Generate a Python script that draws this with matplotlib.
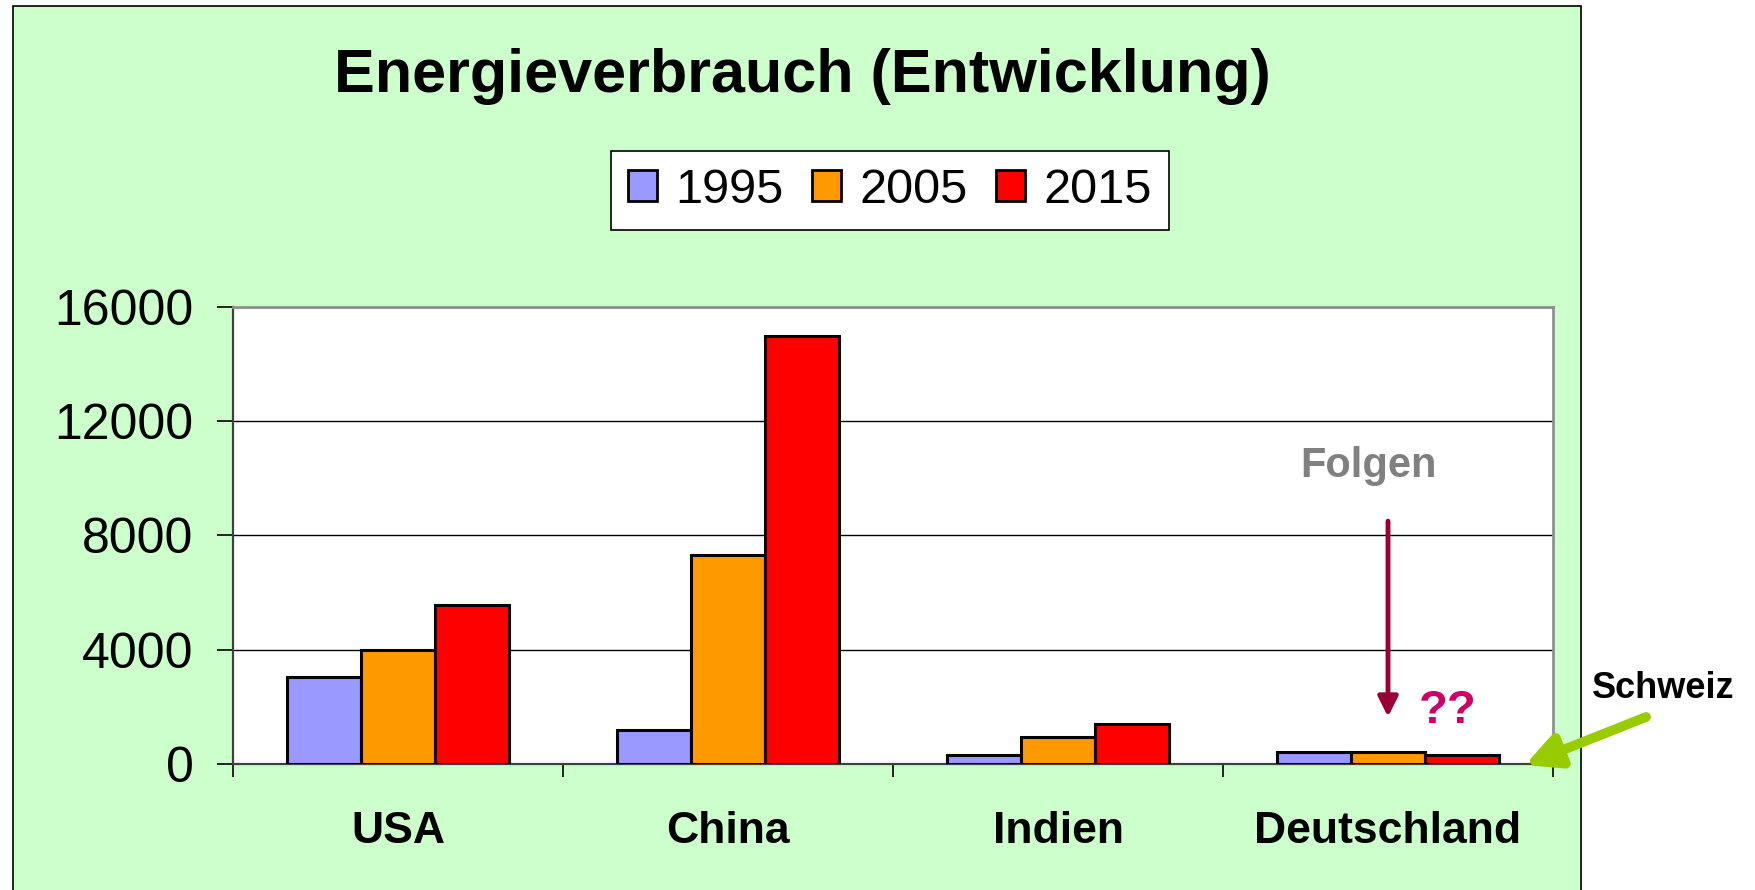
import numpy as np
import matplotlib
matplotlib.use("Agg")
from matplotlib import pyplot as plt
from matplotlib.patches import Rectangle

plt.rcParams['font.family'] = ['Liberation Sans', 'DejaVu Sans']

# --- Daten ---
countries = ['USA', 'China', 'Indien', 'Deutschland']
years = ['1995', '2005', '2015']
values_1995 = [3050, 1200, 300, 420]
values_2005 = [4000, 7300, 950, 420]
values_2015 = [5550, 15000, 1400, 330]
yticks = [0, 4000, 8000, 12000, 16000]
colors = ['#9999FF', '#FF9900', '#FF0000']

fig = plt.figure(figsize=(17.56, 8.90), dpi=100)
fig.patch.set_facecolor('white')

# gruener Hintergrund (Diagrammflaeche)
fig.patches.append(Rectangle((0.0074, -0.01), 0.893, 1.0033, transform=fig.transFigure,
                             facecolor='#CCFFCC', edgecolor='black', linewidth=1.2, zorder=-10))

ax = fig.add_axes([0.1327, 0.1416, 0.7517, 0.5135])
ax.set_facecolor('white')

x = np.arange(len(countries))
w = 0.2236
series = [values_1995, values_2005, values_2015]
for i, (vals, col, yr) in enumerate(zip(series, colors, years)):
    ax.bar(x + (i - 1) * w, vals, width=w, color=col, edgecolor='black',
           linewidth=2.2, label=yr, zorder=3)

ax.set_xlim(-0.5, 3.5)
ax.set_ylim(0, 16000)
ax.set_yticks(yticks)
ax.set_yticklabels([str(v) for v in yticks], fontsize=36)
ax.yaxis.grid(True, color='black', linewidth=1.0, zorder=1)
ax.set_axisbelow(True)

ax.set_xticks(x)
ax.set_xticklabels(countries, fontsize=32, fontweight='bold')
ax.set_xticks(np.arange(-0.5, 4.0, 1.0), minor=True)
ax.tick_params(axis='x', which='major', length=0, pad=34)
ax.tick_params(axis='x', which='minor', length=9.5, width=1.2, color='black', direction='out')
ax.tick_params(axis='y', length=11.5, width=1.2, color='black', pad=17)

for s in ['left', 'bottom']:
    ax.spines[s].set_color('#404040')
    ax.spines[s].set_linewidth(1.6)
for s in ['top', 'right']:
    ax.spines[s].set_color('#909090')
    ax.spines[s].set_linewidth(2.0)

# Titel
fig.text(0.4567, 0.9146, 'Energieverbrauch (Entwicklung)', fontsize=44,
         fontweight='bold', ha='center', va='center')

# Legende
leg = ax.legend(loc='center', bbox_to_anchor=(0.5068, 0.7865), bbox_transform=fig.transFigure,
                ncol=3, fontsize=35, frameon=True, fancybox=False, framealpha=1,
                edgecolor='black', borderpad=0.35, handlelength=0.6, handleheight=0.6,
                handletextpad=0.39, columnspacing=0.57, borderaxespad=0)
leg.get_frame().set_linewidth(1.2)
for h in leg.legend_handles:
    h.set_linewidth(2.0)

# Anmerkungen
ax.text(2.94, 10430, 'Folgen', fontsize=30, fontweight='bold', color='#808080',
        ha='center', va='center')
ax.annotate('', xy=(3.0, 1650), xytext=(3.0, 8500),
            arrowprops=dict(arrowstyle='-|>', color='#990033', lw=3.5,
                            mutation_scale=30, shrinkA=0, shrinkB=0))
ax.text(3.18, 1856, '??', fontsize=34, fontweight='bold', color='#CC0066',
        ha='center', va='center')

fig.text(0.947, 0.226, 'Schweiz', fontsize=26, fontweight='bold', ha='center', va='center')
ax.annotate('', xy=(0.8684, 0.1404), xytext=(0.9374, 0.1944), xycoords='figure fraction',
            textcoords='figure fraction', annotation_clip=False,
            arrowprops=dict(arrowstyle='-|>', color='#99CC00', lw=7,
                            mutation_scale=50, shrinkA=0, shrinkB=0))

plt.savefig('out.png', dpi=100, facecolor=fig.get_facecolor())
